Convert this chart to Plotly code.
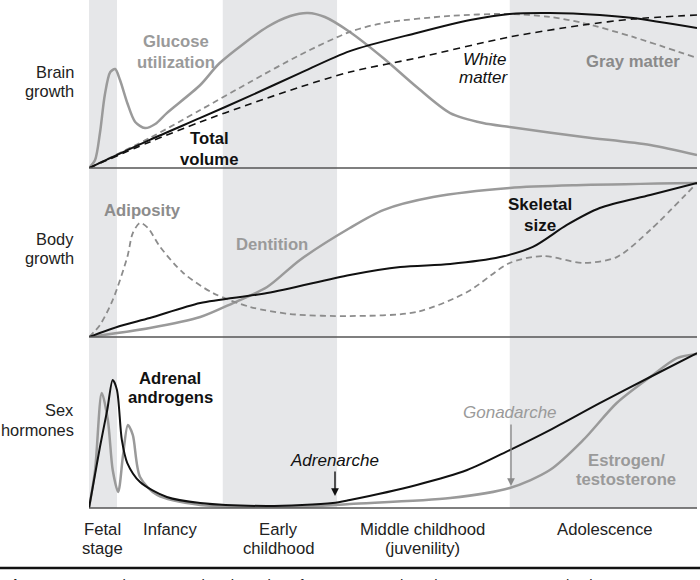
import plotly.graph_objects as go

# ---------------- data (x: developmental time 0-100, y: relative level 0-100) ----
glucose_x = [0, 1.0, 1.8, 2.6, 3.5, 4.3, 5.1, 6.3, 7.6, 9.2, 10.9, 12.8, 18.3, 21.5, 29.3, 33.1, 36.0, 38.8, 42.9, 48.4, 53.9, 59.4, 64.8, 69.2, 81.3, 92.3, 100]
glucose_y = [0, 4.8, 20.8, 43.5, 57.1, 58.9, 52.4, 38.7, 27.4, 23.8, 26.2, 32.7, 49.4, 62.5, 83.9, 90.5, 92.3, 89.9, 81.0, 65.5, 48.2, 32.7, 26.8, 24.4, 18.5, 13.7, 7.7]

total_x = [0, 10.0, 18.3, 26.5, 34.7, 42.9, 53.9, 62.7, 69.2, 75.8, 84.0, 89.5, 100]
total_y = [0, 16.7, 29.8, 42.9, 56.5, 69.6, 80.4, 88.1, 91.7, 92.3, 91.1, 89.3, 83.3]

gray_x = [0, 10.0, 18.3, 26.5, 34.7, 42.9, 48.4, 59.4, 69.2, 75.8, 81.3, 89.5, 100]
gray_y = [0, 17.9, 34.5, 51.2, 67.3, 81.0, 86.3, 90.5, 91.7, 89.9, 86.3, 78.0, 65.5]

white_x = [0, 10.0, 18.3, 26.5, 34.7, 42.9, 53.9, 69.2, 81.3, 89.5, 100]
white_y = [0, 15.5, 27.4, 38.1, 48.2, 57.1, 65.5, 78.0, 85.1, 88.7, 91.1]

adip_x = [0, 1.8, 3.9, 6.3, 7.2, 8.4, 9.7, 11.7, 15.5, 20.4, 26.5, 33.1, 42.9, 53.9, 62.2, 69.2, 74.7, 81.3, 86.8, 92.3, 100]
adip_y = [0, 7.1, 21.9, 47.3, 61.5, 67.5, 64.5, 53.3, 37.9, 26.0, 17.8, 13.6, 12.4, 14.8, 26.6, 43.8, 47.9, 43.8, 47.3, 63.3, 91.1]

skel_x = [0, 5.1, 10.0, 18.3, 29.3, 42.9, 51.2, 59.4, 67.6, 73.0, 78.6, 84.0, 92.3, 100]
skel_y = [0, 6.5, 11.2, 20.1, 26.0, 36.7, 41.4, 43.2, 47.3, 53.3, 66.3, 76.3, 84.0, 91.1]

dent_x = [0, 10.0, 18.3, 23.7, 29.3, 34.7, 42.9, 48.4, 56.6, 69.2, 81.3, 100]
dent_y = [0, 5.3, 11.8, 20.1, 29.6, 45.6, 64.5, 75.1, 82.8, 88.2, 89.9, 91.1]

adren_x = [0, 1.8, 3.0, 3.9, 4.6, 5.4, 6.3, 8.4, 12.8, 18.3, 29.3, 40.1, 42.9, 53.9, 62.2, 69.2, 75.8, 84.0, 92.3, 100]
adren_y = [0, 35.7, 57.3, 74.9, 69.0, 39.8, 26.3, 15.2, 6.4, 2.9, 1.2, 2.9, 4.7, 13.5, 22.2, 33.9, 45.6, 61.4, 76.6, 90.6]

estro_x = [0, 1.0, 2.1, 3.1, 3.9, 4.8, 5.6, 6.4, 7.2, 8.4, 11.2, 18.3, 34.7, 42.9, 59.4, 69.2, 75.8, 81.3, 86.8, 92.3, 96.7, 100]
estro_y = [0, 22.2, 67.3, 51.5, 22.2, 9.4, 31.0, 48.5, 42.7, 18.1, 7.6, 1.8, 0.6, 2.3, 5.8, 11.7, 22.2, 39.8, 61.4, 76.6, 87.7, 90.1]

# shaded developmental stages (x start, x end)
bands = [(0, 4.6), (22.0, 40.8), (69.2, 100)]
stage_labels = [["Fetal", "stage"], ["Infancy"], ["Early", "childhood"],
                ["Middle childhood", "(juvenility)"], ["Adolescence"]]
stage_centers = [2.3, 13.3, 31.2, 54.9, 84.9]
row_labels = [["Brain", "growth"], ["Body", "growth"], ["Sex", "hormones"]]

# ---------------- figure ----------------
W, H = 700, 580
L, R, T, B = 89, 3, 0, 72
PW, PH = W - L - R, H - T - B

def px(xp):
    return (xp - L) / PW

def py(yp):
    return (H - B - yp) / PH

FONT = "Liberation Sans, Arial, Helvetica, sans-serif"
G_SOLID = "#9a9a9a"
G_DASH = "#8c8c8c"
BLACK = "#111111"

fig = go.Figure()

def add(x, y, color, width, dash, yaxis):
    fig.add_trace(go.Scatter(x=x, y=y, mode="lines", yaxis=yaxis,
                             line=dict(color=color, width=width, dash=dash,
                                       shape="spline", smoothing=0.8),
                             hoverinfo="skip", showlegend=False))

# Brain panel
add(glucose_x, glucose_y, G_SOLID, 2.5, "solid", "y")
add(gray_x, gray_y, G_DASH, 1.8, "6px,4px", "y")
add(white_x, white_y, BLACK, 1.6, "7px,5px", "y")
add(total_x, total_y, BLACK, 2.0, "solid", "y")
# Body panel
add(dent_x, dent_y, G_SOLID, 2.5, "solid", "y2")
add(adip_x, adip_y, G_DASH, 1.8, "6px,4px", "y2")
add(skel_x, skel_y, BLACK, 2.0, "solid", "y2")
# Hormone panel
add(estro_x, estro_y, G_SOLID, 2.5, "solid", "y3")
add(adren_x, adren_y, BLACK, 2.0, "solid", "y3")

shapes = []
for x0, x1 in bands:
    shapes.append(dict(type="rect", xref="x", yref="paper", x0=x0, x1=x1, y0=0, y1=1,
                       fillcolor="#e6e7e9", line=dict(width=0), layer="below"))
for yp in (168, 337, 508):
    shapes.append(dict(type="line", xref="paper", yref="paper", x0=0, x1=1,
                       y0=py(yp), y1=py(yp), line=dict(color="#555555", width=1.5)))
shapes.append(dict(type="line", xref="paper", yref="paper", x0=px(0), x1=px(700),
                   y0=py(568), y1=py(568), line=dict(color="#111111", width=2.5)))

ann = []

def text(lines, x, ys, color="#222222", size=16.7, bold=False, italic=False, xanchor="center"):
    for t, y in zip(lines, ys):
        if bold:
            t = "<b>" + t + "</b>"
        if italic:
            t = "<i>" + t + "</i>"
        ann.append(dict(text=t, x=px(x), y=py(y), xref="paper", yref="paper", showarrow=False,
                        xanchor=xanchor, yanchor="middle",
                        font=dict(family=FONT, size=size, color=color)))

# row labels
for lab, ys in zip(row_labels, [(72, 91), (239, 258), (410, 430)]):
    text(lab, 76, ys, color="#222222", size=16.4, xanchor="right")

# curve labels
text(["Glucose", "utilization"], 176, (42, 62), color=G_SOLID, bold=True)
text(["Total", "volume"], 209, (139, 159), color=BLACK, bold=True)
text(["White", "matter"], 484, (59, 78), color=BLACK, size=17, italic=True)
text(["Gray matter"], 633, (61,), color="#8a8a8a", bold=True)
text(["Adiposity"], 142, (210,), color="#8c8c8c", bold=True)
text(["Dentition"], 272, (244,), color=G_SOLID, bold=True)
text(["Skeletal", "size"], 540, (205, 225), color=BLACK, bold=True, size=17)
text(["Adrenal", "androgens"], 170, (378, 398), color=BLACK, bold=True)
text(["Adrenarche"], 334, (461,), color=BLACK, size=17, italic=True)
text(["Gonadarche"], 510, (412,), color="#9a9a9a", size=17, italic=True)
text(["Estrogen/", "testosterone"], 626, (460, 479), color=G_SOLID, bold=True)

# arrows
for xa, y0a, y1a, col in [(335, 470, 496, BLACK), (511, 423, 486, "#8a8a8a")]:
    ann.append(dict(x=px(xa), y=py(y1a), ax=0, ay=-(y1a - y0a), xref="paper", yref="paper",
                    axref="pixel", ayref="pixel", text="", showarrow=True,
                    arrowhead=2, arrowsize=1.1, arrowwidth=1.4, arrowcolor=col))

# stage labels along the bottom
for lab, xc in zip(stage_labels, stage_centers):
    for t, y in zip(lab, (529, 548)):
        ann.append(dict(text=t, x=xc, y=py(y), xref="x", yref="paper", showarrow=False,
                        xanchor="center", yanchor="middle",
                        font=dict(family=FONT, size=16.7, color="#222222")))

# caption (cut off by the bottom edge, as in the source)
ann.append(dict(text="<b>Figure 3.3</b>   Development and Trajectories of Human Growth and Sex Hormone Production",
                x=px(2), y=py(574), xref="paper", yref="paper", showarrow=False,
                xanchor="left", yanchor="top", font=dict(family=FONT, size=15, color="#222222")))

fig.update_layout(
    width=W, height=H,
    margin=dict(l=L, r=R, t=T, b=B),
    paper_bgcolor="white", plot_bgcolor="rgba(0,0,0,0)",
    xaxis=dict(range=[0, 100], visible=False, fixedrange=True),
    yaxis=dict(domain=[py(168), 1], range=[0, 100], visible=False, anchor="x"),
    yaxis2=dict(domain=[py(337), py(168)], range=[0, 100], visible=False, anchor="x"),
    yaxis3=dict(domain=[0, py(337)], range=[0, 100], visible=False, anchor="x"),
    shapes=shapes, annotations=ann, showlegend=False,
)

fig.write_html("out.html", config={"displayModeBar": False},
               post_script="document.body.style.margin='0';document.body.style.overflow='hidden';")
